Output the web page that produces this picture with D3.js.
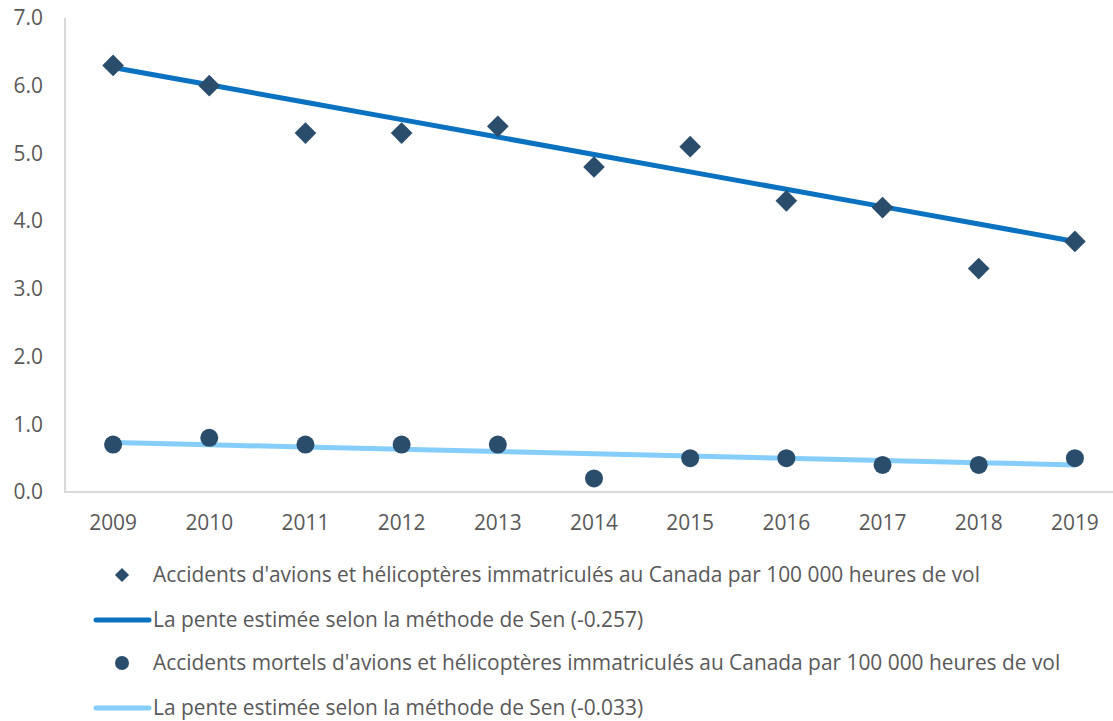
<!DOCTYPE html>
<html><head><meta charset="utf-8">
<script src="https://cdn.jsdelivr.net/npm/d3@7/dist/d3.min.js"></script>
<style>body{margin:0;background:#fff}svg{display:block}</style>
</head><body><svg id="c" width="1113" height="721"></svg>
<script>
const years = ["2009","2010","2011","2012","2013","2014","2015","2016","2017","2018","2019"];
const accidents = [6.3, 6.0, 5.3, 5.3, 5.4, 4.8, 5.1, 4.3, 4.2, 3.3, 3.7];
const fatal = [0.7, 0.8, 0.7, 0.7, 0.7, 0.2, 0.5, 0.5, 0.4, 0.4, 0.5];
const senStart1 = 6.27, senSlope1 = -0.257;
const senStart2 = 0.73, senSlope2 = -0.033;
const yTicks = [0,1,2,3,4,5,6,7];
const legendLabels = [
  "Accidents d'avions et hélicoptères immatriculés au Canada par 100 000 heures de vol",
  "La pente estimée selon la méthode de Sen (-0.257)",
  "Accidents mortels d'avions et hélicoptères immatriculés au Canada par 100 000 heures de vol",
  "La pente estimée selon la méthode de Sen (-0.033)"
];
const markerColor = "#2A4D6C", line1Color = "#0A72C0", line2Color = "#85CEFB", textColor = "#595959", axisColor = "#D9D9D9";
const font = "'Open Sans', sans-serif";
const fs = 20.9;

const svg = d3.select("#c");
const x = d3.scaleBand().domain(years).range([65, 1123]);
const y = d3.scaleLinear().domain([0,7]).range([492, 18]);
const cx = d => x(d) + x.bandwidth()/2;

svg.append("line").attr("x1",65).attr("x2",65).attr("y1",18).attr("y2",492).attr("stroke",axisColor).attr("stroke-width",2);
svg.append("line").attr("x1",64).attr("x2",1113).attr("y1",492).attr("y2",492).attr("stroke",axisColor).attr("stroke-width",2);

svg.selectAll(".yt").data(yTicks).join("text").attr("x",43).attr("y",d=>y(d)).attr("dy","0.35em")
  .attr("text-anchor","end").attr("font-family",font).attr("font-size",fs).attr("fill",textColor).text(d=>d.toFixed(1));
svg.selectAll(".xt").data(years).join("text").attr("x",d=>cx(d)).attr("y",523).attr("dy","0.35em")
  .attr("text-anchor","middle").attr("font-family",font).attr("font-size",fs).attr("fill",textColor).text(d=>d);

const trend = (s,k) => years.map((yr,i)=>[cx(yr), y(s + k*i)]);
const lg = d3.line();
svg.append("path").attr("d",lg(trend(senStart1,senSlope1))).attr("stroke",line1Color).attr("stroke-width",5).attr("fill","none").attr("stroke-linecap","round");
svg.append("path").attr("d",lg(trend(senStart2,senSlope2))).attr("stroke",line2Color).attr("stroke-width",5).attr("fill","none").attr("stroke-linecap","round");

const diamond = d3.symbol().type(d3.symbolSquare).size(235)();
svg.selectAll(".dm").data(accidents).join("path").attr("d",diamond)
  .attr("transform",(d,i)=>`translate(${cx(years[i])},${y(d)}) rotate(45)`).attr("fill",markerColor);
svg.selectAll(".ci").data(fatal).join("circle").attr("cx",(d,i)=>cx(years[i])).attr("cy",d=>y(d)).attr("r",9).attr("fill",markerColor);

const ly = [575, 620, 663, 708];
legendLabels.forEach((t,i)=>{
  if(i===0) svg.append("path").attr("d",d3.symbol().type(d3.symbolSquare).size(100)()).attr("transform",`translate(122,${ly[i]}) rotate(45)`).attr("fill",markerColor);
  if(i===2) svg.append("circle").attr("cx",122).attr("cy",ly[i]).attr("r",7).attr("fill",markerColor);
  if(i===1||i===3) svg.append("line").attr("x1",96).attr("x2",149).attr("y1",ly[i]).attr("y2",ly[i]).attr("stroke",i===1?line1Color:line2Color).attr("stroke-width",5).attr("stroke-linecap","round");
  svg.append("text").attr("x",153).attr("y",ly[i]).attr("dy","0.35em").attr("font-family",font).attr("font-size",fs).attr("fill",textColor).text(t);
});
</script></body></html>
